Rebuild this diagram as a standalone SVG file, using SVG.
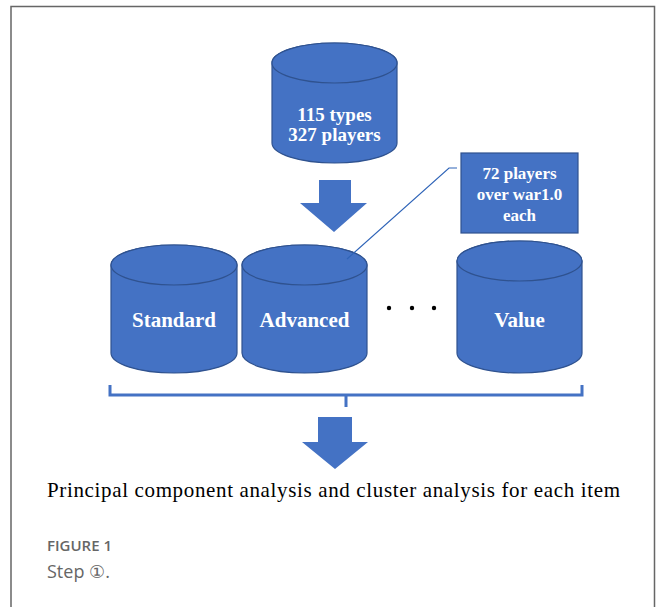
<svg xmlns="http://www.w3.org/2000/svg" width="656" height="607" viewBox="0 0 656 607">
<style>
.cyl{fill:#4472C4;stroke:#2F528F;stroke-width:1.2}
.lbl{font-family:"Liberation Serif","Times New Roman",serif;font-weight:bold;fill:#fff;text-anchor:middle}
.blue{fill:#4472C4}
.frame{stroke:#666;stroke-width:1.5;fill:none}
.serif{font-family:"Liberation Serif","Times New Roman",serif}
.cap{font-family:"Open Sans","Noto Sans","DejaVu Sans",sans-serif;fill:#666}
</style>
<rect width="656" height="607" fill="#fff"/>
<path class="frame" d="M11,607 V6.5 H654.5 V607"/>
<g id="source">
<path class="cyl" d="M272,63 A62.5,20 0 0 1 397,63 V143 A62.5,20 0 0 1 272,143 Z"/>
<ellipse class="cyl" cx="334.5" cy="63" rx="62.5" ry="20"/>
<text class="lbl" x="334.5" y="121" font-size="19">115 types</text>
<text class="lbl" x="334.5" y="141" font-size="19">327 players</text>
</g>
<g id="standard">
<path class="cyl" d="M111,265 A63,20 0 0 1 237,265 V353 A63,20 0 0 1 111,353 Z"/>
<ellipse class="cyl" cx="174" cy="265" rx="63" ry="20"/>
<text class="lbl" x="174" y="327" font-size="21">Standard</text>
</g>
<g id="advanced">
<path class="cyl" d="M242,265 A62.5,20 0 0 1 367,265 V353 A62.5,20 0 0 1 242,353 Z"/>
<ellipse class="cyl" cx="304.5" cy="265" rx="62.5" ry="20"/>
<text class="lbl" x="304.5" y="327" font-size="21">Advanced</text>
</g>
<g id="value">
<path class="cyl" d="M457,261 A62.5,20 0 0 1 582,261 V353 A62.5,20 0 0 1 457,353 Z"/>
<ellipse class="cyl" cx="519.5" cy="261" rx="62.5" ry="20"/>
<text class="lbl" x="519.5" y="327" font-size="21">Value</text>
</g>
<g id="note">
<rect class="cyl" x="461" y="153" width="117" height="80"/>
<text class="lbl" x="519.5" y="179" font-size="17">72 players</text>
<text class="lbl" x="519.5" y="200" font-size="17">over war1.0</text>
<text class="lbl" x="519.5" y="221" font-size="17">each</text>
</g>
<g id="ellipsis">
<circle cx="389" cy="308" r="2.2" fill="#000"/>
<circle cx="412" cy="308" r="2.2" fill="#000"/>
<circle cx="434" cy="308" r="2.2" fill="#000"/>
</g>
<g id="connectors">
<polygon class="blue" points="319,180 351,180 351,203 367,203 334,232 300,203 319,203"/>
<polyline points="347,259 449,168 457,168" fill="none" stroke="#2F64B8" stroke-width="1.2"/>
<path d="M110,385 V395 H582 V385 M346,395 V407" fill="none" stroke="#4472C4" stroke-width="3"/>
<polygon class="blue" points="318,417 352,417 352,442 368,442 335,469 302,442 318,442"/>
</g>
<g id="result">
<text class="serif" x="47" y="497" font-size="21" fill="#000" textLength="573" lengthAdjust="spacing">Principal component analysis and cluster analysis for each item</text>
</g>
<g id="caption">
<text class="cap" x="47" y="551" font-size="15" font-weight="600">FIGURE 1</text>
<text class="cap" x="47" y="578" font-size="18">Step ①.</text>
</g>
</svg>
